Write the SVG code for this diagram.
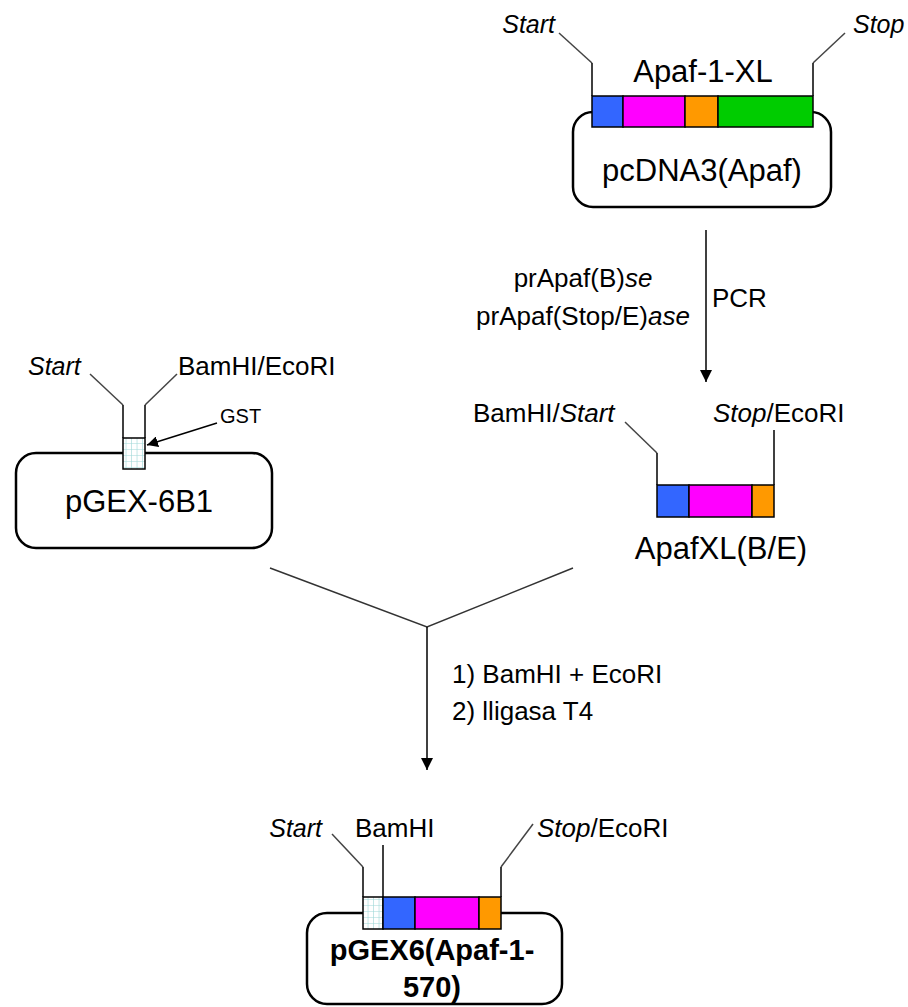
<svg xmlns="http://www.w3.org/2000/svg" width="908" height="1007" viewBox="0 0 908 1007">
<defs>
<style>
text{font-family:"Liberation Sans",Arial,sans-serif;fill:#000}
.lbl{font-size:26px}
.sm{font-size:25px}
.big{font-size:31px}
.bold{font-size:29px;font-weight:bold}
.it{font-style:italic}
.box{fill:#fff;stroke:#000;stroke-width:2.5}
.seg{stroke:#000;stroke-width:1.5}
.lead{fill:none;stroke:#444;stroke-width:1.5}
.vert{fill:none;stroke:#000;stroke-width:1.5}
.conn{fill:none;stroke:#000;stroke-width:1.5}
.yline{fill:none;stroke:#333;stroke-width:1.5}
</style>
<pattern id="grid" patternUnits="userSpaceOnUse" x="0" y="0" width="5.5" height="6">
<rect width="5.5" height="6" fill="#fff"/>
<path d="M5.5,0 V6 M0,6 H5.5" stroke="#9fd8d8" stroke-width="1.2"/>
</pattern>
<marker id="ah" viewBox="0 0 10 10" refX="10" refY="5" markerWidth="12" markerHeight="12" markerUnits="userSpaceOnUse" orient="auto">
<path d="M0,0 L10,5 L0,10 z" fill="#000"/>
</marker>
<marker id="ahs" viewBox="0 0 10 10" refX="10" refY="5" markerWidth="11" markerHeight="11" markerUnits="userSpaceOnUse" orient="auto">
<path d="M0,0 L10,5 L0,10 z" fill="#000"/>
</marker>
</defs>

<g id="pcDNA3">
<rect class="box" x="573" y="112" width="258" height="95" rx="20"/>
<path class="lead" d="M559,33 L592,63"/>
<path class="vert" d="M592,63 V96"/>
<path class="lead" d="M845,33 L813,63"/>
<path class="vert" d="M813,63 V96"/>
<rect class="seg" x="592" y="96" width="31" height="31" fill="#3366FF"/>
<rect class="seg" x="623" y="96" width="62" height="31" fill="#FF00FF"/>
<rect class="seg" x="685" y="96" width="33" height="31" fill="#FF9900"/>
<rect class="seg" x="718" y="96" width="95" height="31" fill="#00CC00"/>
<text class="sm it" x="555" y="33" text-anchor="end">Start</text>
<text class="sm it" x="853" y="33">Stop</text>
<text class="big" x="703" y="82" text-anchor="middle">Apaf-1-XL</text>
<text class="big" x="702" y="181" text-anchor="middle">pcDNA3(Apaf)</text>
</g>

<g id="pGEX-6B1">
<rect class="box" x="16" y="453" width="256" height="95" rx="20"/>
<path class="lead" d="M90,374 L123,405"/>
<path class="vert" d="M123,405 V438"/>
<path class="lead" d="M177,374 L145,405"/>
<path class="vert" d="M145,405 V438"/>
<rect x="123" y="438" width="22" height="31" fill="url(#grid)" stroke="#000" stroke-width="1.5"/>
<text class="sm it" x="28" y="375">Start</text>
<text class="lbl" x="178" y="375">BamHI/EcoRI</text>
<text x="220" y="423" style="font-size:20px">GST</text>
<text class="big" x="139" y="512" text-anchor="middle">pGEX-6B1</text>
</g>

<g id="ApafXL-BE">
<path class="lead" d="M625,422 L657,453"/>
<path class="vert" d="M657,453 V485"/>
<path class="vert" d="M774,430 V485"/>
<rect class="seg" x="657" y="485" width="32" height="32" fill="#3366FF"/>
<rect class="seg" x="689" y="485" width="63" height="32" fill="#FF00FF"/>
<rect class="seg" x="752" y="485" width="22" height="32" fill="#FF9900"/>
<text class="lbl" x="473" y="422">BamHI/<tspan class="it">Start</tspan></text>
<text class="lbl" x="713" y="422"><tspan class="it">Stop</tspan>/EcoRI</text>
<text class="big" x="721" y="559" text-anchor="middle">ApafXL(B/E)</text>
</g>

<g id="pGEX6-Apaf">
<rect class="box" x="307" y="913" width="255" height="91" rx="20"/>
<path class="lead" d="M332,834 L363,867"/>
<path class="vert" d="M363,867 V897"/>
<path class="vert" d="M383,845 V897"/>
<path class="lead" d="M533,824 L501,867"/>
<path class="vert" d="M501,867 V897"/>
<rect x="363" y="897" width="20" height="32" fill="url(#grid)" stroke="#000" stroke-width="1.5"/>
<rect class="seg" x="383" y="897" width="32" height="32" fill="#3366FF"/>
<rect class="seg" x="415" y="897" width="64" height="32" fill="#FF00FF"/>
<rect class="seg" x="479" y="897" width="22" height="32" fill="#FF9900"/>
<text class="sm it" x="322" y="837" text-anchor="end">Start</text>
<text class="lbl" x="355" y="837">BamHI</text>
<text class="lbl" x="537" y="837"><tspan class="it">Stop</tspan>/EcoRI</text>
<text class="bold" x="432" y="960" text-anchor="middle">pGEX6(Apaf-1-</text>
<text class="bold" x="432" y="997" text-anchor="middle">570)</text>
</g>

<g id="connectors">
<path class="conn" d="M706,230 V382" marker-end="url(#ah)"/>
<path class="conn" d="M217,423 L147,445" marker-end="url(#ahs)"/>
<path class="yline" d="M270,568 L427,627 L573,568"/>
<path class="conn" d="M427,627 V770" marker-end="url(#ah)"/>
</g>

<g id="labels">
<text class="lbl" x="583" y="287" text-anchor="middle">prApaf(B)<tspan class="it">se</tspan></text>
<text class="lbl" x="583" y="325" text-anchor="middle">prApaf(Stop/E)<tspan class="it">ase</tspan></text>
<text class="lbl" x="712" y="307">PCR</text>
<text class="lbl" x="452" y="683">1) BamHI + EcoRI</text>
<text class="lbl" x="452" y="720">2) lligasa T4</text>
</g>
</svg>
